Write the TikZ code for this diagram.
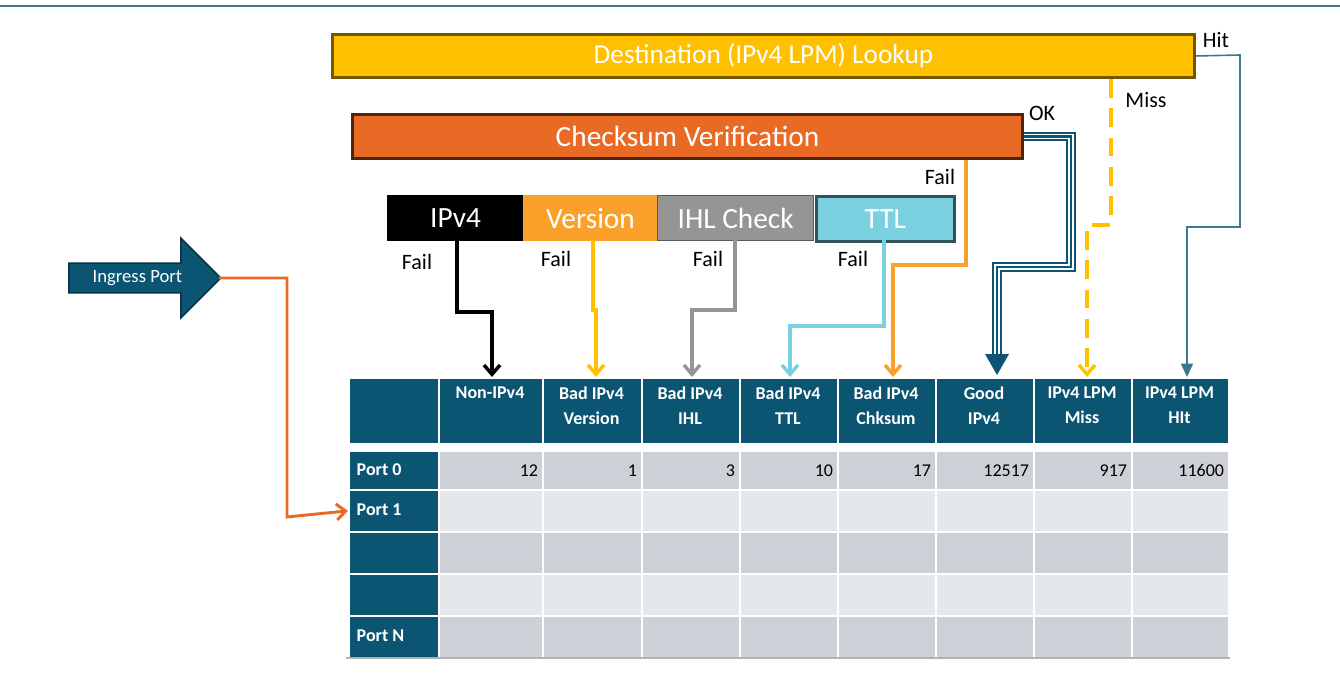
\documentclass[tikz,border=0pt]{standalone}
\usepackage{fontspec}
\setmainfont{Carlito}
\usetikzlibrary{shapes.arrows,arrows.meta}
\definecolor{teal}{HTML}{0B5573}
\definecolor{gold}{HTML}{FFC000}
\definecolor{org}{HTML}{E86A24}
\definecolor{vorg}{HTML}{F9A12B}
\definecolor{ltb}{HTML}{7BD0E0}
\definecolor{gr}{HTML}{959595}
\definecolor{rowa}{HTML}{CDD1D7}
\definecolor{rowb}{HTML}{E5E8EB}
\begin{document}
\begin{tikzpicture}[x=0.75pt,y=-0.75pt,
  box/.style={draw,line width=2.2pt,inner sep=0pt,anchor=north west,text=white},
  lbl/.style={font=\fontsize{16.5}{16.5}\selectfont,text=black},
  hd/.style={fill=teal,draw=white,line width=1.2pt,inner sep=0pt},
  hdt/.style={text=white,font=\bfseries\fontsize{13.5}{18.5}\selectfont,align=center,inner sep=0pt},
  cell/.style={draw=white,line width=1.2pt,inner sep=0pt},
  conn/.style={line width=2.6pt,-{Straight Barb[length=7pt,width=12pt]}}]
\useasboundingbox (0,0) rectangle (1340,674);
\draw[color=teal!80,line width=1.5pt] (0,6) -- (1340,6);
% boxes
\node[box,fill=gold,draw=gold!45!black,minimum width=862*0.75pt,minimum height=43*0.75pt,font=\fontsize{20.5}{20.5}\selectfont] (dst) at (331,33) {Destination (IPv4 LPM) Lookup};
\node[box,fill=org,draw=org!35!black,minimum width=670*0.75pt,minimum height=44*0.75pt,font=\fontsize{22}{22}\selectfont] (chk) at (351,113) {Checksum Verification};
\node[box,fill=black,draw=black,line width=0.8pt,minimum width=136*0.75pt,minimum height=45*0.75pt,font=\fontsize{22}{22}\selectfont] (ipv4) at (387,195) {IPv4};
\node[box,fill=vorg,draw=vorg,line width=0.8pt,minimum width=134*0.75pt,minimum height=45*0.75pt,font=\fontsize{22}{22}\selectfont] (ver) at (523,195) {Version};
\node[box,fill=gr,draw=gr!60!black,line width=1pt,minimum width=156*0.75pt,minimum height=45*0.75pt,font=\fontsize{22}{22}\selectfont] (ihl) at (657,195) {IHL Check};
\node[box,fill=ltb,draw=ltb!40!black,line width=2pt,minimum width=138*0.75pt,minimum height=45*0.75pt,font=\fontsize{22}{22}\selectfont] (ttl) at (815,195) {TTL};
% ingress
\node[single arrow,fill=teal,draw=teal!60!black,line width=1.2pt,text=white,minimum height=152*0.75pt,minimum width=80*0.75pt,single arrow head extend=14pt,inner sep=2pt,font=\fontsize{14}{14}\selectfont,anchor=west] (ing) at (68,278) {Ingress Port\hspace{16pt}};
\coordinate (ingo) at (219,278);
% table
\def\cx{{348,438,542,641,739,837,935,1033,1131,1228}}
\node[hd,minimum width=90*0.75pt,minimum height=66*0.75pt,anchor=north west] (h0) at (348,377) {};
\foreach \i/\t in {1/Non-IPv4,2/Bad IPv4\\Version,3/Bad IPv4\\IHL,4/Bad IPv4\\TTL,5/Bad IPv4\\Chksum,6/Good\\IPv4,7/IPv4 LPM\\Miss,8/IPv4 LPM\\HIt}{
  \pgfmathsetmacro\xa{\cx[\i]}\pgfmathsetmacro\xb{\cx[\i+1]}
  \node[hd,minimum width={(\xb-\xa)*0.75pt},minimum height=66*0.75pt,anchor=north west] (h\i) at (\xa,377) {};
  \node[hdt,anchor=north] at ({(\xa+\xb)/2},387) {\t};
}
\foreach \r/\ya/\yb/\c/\n in {0/450/489/rowa/Port 0,1/489/531/rowb/Port 1,2/531/573/rowa/,3/573/615/rowb/,4/615/657/rowa/Port N}{
  \node[hd,minimum width=90*0.75pt,minimum height={(\yb-\ya)*0.75pt},anchor=north west] (p\r) at (348,\ya) {};
  \node[text=white,font=\bfseries\fontsize{13.5}{15}\selectfont,anchor=west] at (352,{(\ya+\yb)/2}) {\n};
  \foreach \i in {1,...,8}{
    \pgfmathsetmacro\xa{\cx[\i]}\pgfmathsetmacro\xb{\cx[\i+1]}
    \node[cell,fill=\c,minimum width={(\xb-\xa)*0.75pt},minimum height={(\yb-\ya)*0.75pt},anchor=north west] (c\r\i) at (\xa,\ya) {};
  }
}
\foreach \i/\v in {1/12,2/1,3/3,4/10,5/17,6/12517,7/917,8/11600}{
  \node[font=\fontsize{13.5}{15}\selectfont,anchor=east,inner sep=4pt] at (c0\i.east) {\v};
}
\draw[gray!60,line width=1pt] (346,658) -- (1230,658);
% connectors
\draw[conn,black] (ipv4.south -| 457,0) |- (492,312) -- (h1.north -| 492,0);
\draw[conn,gold] (593,240) |- (596,310) -- (h2.north -| 596,0);
\draw[conn,gr] (735,240) |- (692,310) -- (h3.north -| 692,0);
\draw[conn,ltb] (884,240) |- (790,326) -- (h4.north -| 790,0);
\draw[conn,vorg] (chk.south -| 966,0) |- (893,265) -- (h5.north -| 893,0);
\draw[conn,org,line width=2.2pt] (ingo) -| (287,517) -- (p1.west);
\draw[gold,line width=2.6pt,dash pattern=on 14pt off 8pt,-{Straight Barb[length=7pt,width=12pt]}] (dst.south -| 1111,0) |- (1087,225) -- (h7.north -| 1087,0);
\draw[teal!80,line width=1.2pt,-{Triangle[length=10pt,width=9pt]}] (dst.east) -- (1240,55) |- (1187,227) -- (h8.north -| 1187,0);
\draw[teal,line width=7pt] (chk.east) -| (1071,267) -| (997,355);
\draw[white,line width=4.4pt] (chk.east) -| (1071,267) -| (997,355);
\draw[teal,line width=1.6pt] (chk.east) -| (1071,267) -| (997,355);
\fill[teal] (985,354) -- (1009,354) -- (997,375) -- cycle;
% labels
\node[lbl] at (417,262) {Fail};
\node[lbl] at (556,259) {Fail};
\node[lbl] at (708,259) {Fail};
\node[lbl] at (853,259) {Fail};
\node[lbl] at (940,177) {Fail};
\node[lbl] at (1216,40) {Hit};
\node[lbl] at (1146,100) {Miss};
\node[lbl] at (1042,113) {OK};
\end{tikzpicture}
\end{document}
